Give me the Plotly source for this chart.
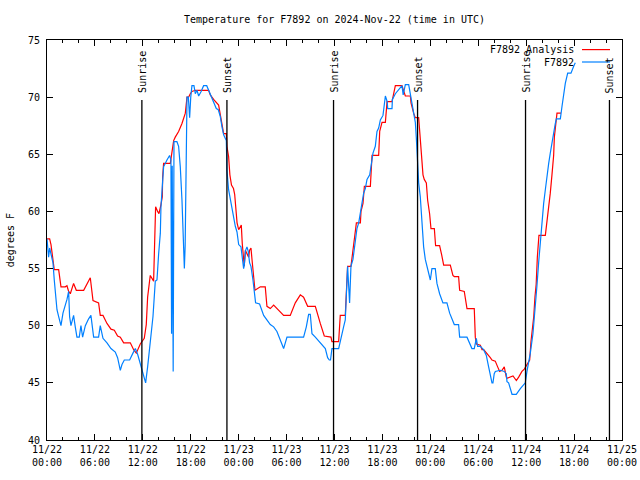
import pandas as pd
import plotly.graph_objects as go

START = "2024-11-22 00:00"
END = "2024-11-25 00:00"

# F7892 Analysis (red): hours since 11/22 00:00 UTC, temperature (F)
analysis_hours = [
    0.00, 0.33, 0.50, 0.62, 0.75, 0.91, 1.46, 1.67, 1.75, 2.29, 2.50, 2.71, 2.92, 3.33, 3.67,
    4.59, 5.42, 5.76, 6.46, 6.67, 7.01, 7.51, 8.01, 8.43, 8.84, 9.18, 9.60, 10.43, 10.85, 11.18,
    11.68, 12.18, 12.43, 12.60, 12.80, 12.93, 13.35, 13.50, 13.60, 13.85, 14.02, 14.27, 14.44,
    14.48, 14.60, 15.44, 15.69, 15.86, 16.06, 16.48, 16.90, 17.32, 17.53, 17.73, 17.94, 18.15,
    18.57, 20.24, 20.45, 20.86, 21.49, 21.70, 21.91, 22.12, 22.45, 22.53, 22.74, 22.90, 23.10,
    23.35, 23.50, 23.60, 23.80, 24.00, 24.20, 24.33, 24.45, 24.62, 24.70, 24.83, 25.04, 25.25,
    25.37, 25.54, 25.67, 25.87, 26.04, 26.71, 27.33, 27.54, 27.96, 28.38, 28.79, 29.21, 29.63,
    30.46, 31.09, 31.72, 32.13, 32.64, 33.60, 34.22, 34.72, 35.56, 35.68, 36.52, 36.72, 37.35,
    37.48, 37.64, 38.06, 38.31, 38.48, 38.74, 39.24, 39.32, 39.57, 39.74, 40.49, 40.57, 40.70,
    41.53, 41.66, 41.95, 42.37, 42.58, 43.20, 43.41, 43.62, 44.45, 44.66, 44.87, 45.50, 45.58,
    45.91, 46.12, 46.54, 46.74, 46.95, 47.08, 47.24, 47.50, 47.66, 47.91, 48.08, 48.50, 48.66,
    49.16, 49.42, 49.67, 50.50, 50.83, 51.00, 51.54, 51.67, 52.25, 52.59, 53.50, 53.63, 53.76,
    54.26, 54.47, 54.68, 55.09, 55.51, 55.72, 56.13, 56.43, 56.68, 56.97, 57.18, 57.26, 57.51,
    57.60, 58.35, 58.77, 59.06, 59.27, 59.47, 59.77, 60.10, 60.44, 60.60, 60.80, 60.95, 61.10,
    61.25, 61.40, 61.60, 62.40, 62.61, 62.82, 63.02, 63.23, 63.44, 63.53, 63.78, 63.86, 64.36,
]
analysis_temp = [
    57.6, 57.6, 57.1, 56.5, 55.9, 54.9, 54.9, 53.7, 53.4, 53.4, 53.5, 53.0, 52.8, 53.7, 53.1,
    53.1, 54.2, 52.2, 52.0, 50.9, 50.9, 50.2, 49.7, 49.6, 49.1, 49.0, 48.5, 48.5, 47.9, 47.6,
    48.4, 48.9, 50.1, 52.5, 54.0, 54.4, 53.9, 57.1, 60.4, 60.0, 59.8, 60.6, 61.3,
    63.0, 64.2, 64.2, 65.2, 66.2, 66.5, 67.0, 67.7, 68.6, 70.0, 70.0, 70.3, 70.5,
    70.6, 70.6, 70.2, 69.8, 69.3, 68.4, 67.4, 66.8, 66.8, 65.7, 64.8, 63.2, 62.3,
    62.0, 61.5, 60.3, 59.0, 58.4, 58.7, 58.8, 57.2, 55.3, 55.2, 56.6, 56.3, 56.0,
    56.6, 56.8, 55.8, 54.3, 53.1, 53.4, 53.4, 51.7, 51.5, 51.8, 51.5, 51.2, 50.9,
    50.9, 52.0, 52.7, 52.5, 51.7, 51.7, 50.2, 49.1, 49.0, 48.6, 48.6, 50.9, 50.9,
    52.8, 55.2, 55.2, 56.6, 57.5, 59.0, 59.0, 60.0, 60.7, 62.2, 62.2, 63.0, 64.9,
    64.9, 67.0, 67.8, 67.8, 69.6, 69.6, 70.3, 71.0, 71.0, 70.6, 70.1, 70.1, 69.5,
    68.6, 68.2, 68.2, 66.2, 64.5, 63.2, 62.8, 62.5, 61.0, 59.8, 58.5, 58.5, 57.0,
    57.0, 56.2, 55.3, 55.3, 54.4, 54.3, 54.3, 53.1, 53.0, 51.5, 51.5, 49.0, 48.4,
    48.3, 47.9, 47.9, 47.6, 47.2, 47.0, 46.9, 46.4, 46.0, 46.1, 46.4, 46.4, 45.5,
    45.4, 45.6, 45.2, 45.5, 45.8, 46.0, 46.2, 46.6, 47.0, 48.6, 49.9, 50.8, 52.5,
    53.6, 56.0, 57.9, 57.9, 59.1, 60.0, 61.6, 63.2, 64.9, 66.5, 68.1, 68.6, 68.6,
]

# F7892 station observations (blue)
station_hours = [
    0.00, 0.08, 0.20, 0.33, 0.50, 0.75, 0.91, 1.04, 1.25, 1.46, 1.75, 2.00, 2.29, 2.50, 2.71,
    2.83, 3.00, 3.33, 3.54, 3.75, 4.04, 4.25, 4.46, 4.80, 5.21, 5.50, 5.84, 6.46, 6.67, 7.01,
    7.51, 8.01, 8.55, 8.84, 9.18, 9.39, 9.68, 10.35, 10.76, 11.06, 11.35, 11.68, 12.02, 12.35,
    12.60, 12.93, 13.27, 13.56, 13.77, 13.98, 14.19, 14.27, 14.44, 14.60, 15.02, 15.35, 15.52,
    15.60, 15.68, 15.80, 15.90, 16.27, 16.48, 16.69, 16.90, 17.05, 17.12, 17.20, 17.30, 17.45,
    17.53, 17.70, 17.86, 18.00, 18.15, 18.40, 18.57, 18.78, 18.99, 19.30, 19.61, 20.00, 20.24,
    20.66, 20.95, 21.20, 21.45, 21.70, 21.91, 22.12, 22.45, 22.53, 22.74, 22.95, 23.16, 23.37,
    23.58, 23.79, 24.00, 24.29, 24.41, 24.54, 24.62, 24.70, 24.87, 25.04, 25.20, 25.37, 25.54,
    25.79, 25.96, 26.12, 26.62, 26.92, 27.13, 27.96, 28.38, 28.79, 29.21, 29.63, 30.05, 32.13,
    32.47, 32.76, 32.97, 33.18, 33.60, 34.22, 34.85, 35.14, 35.35, 35.50, 35.68, 36.52, 36.81,
    37.14, 37.35, 37.48, 37.64, 37.89, 38.06, 38.31, 38.60, 38.81, 39.03, 39.24, 39.44, 39.65,
    39.86, 40.07, 40.41, 40.57, 40.82, 41.11, 41.32, 41.53, 41.74, 42.07, 42.24, 42.37, 42.60,
    42.66, 43.20, 43.25, 43.62, 44.24, 44.45, 44.60, 44.87, 45.29, 45.50, 45.70, 45.91, 46.12,
    46.24, 46.33, 46.41, 46.54, 46.74, 46.95, 47.16, 47.37, 47.58, 47.79, 48.00, 48.20, 48.62,
    48.83, 49.16, 49.58, 50.08, 50.42, 50.71, 51.00, 51.54, 51.67, 52.59, 53.21, 53.50, 53.76,
    53.92, 54.26, 54.67, 55.01, 55.30, 55.59, 55.72, 55.84, 56.00, 56.14, 56.76, 57.26, 57.51,
    57.60, 57.80, 58.23, 58.76, 59.27, 59.89, 60.10, 60.31, 60.52, 60.85, 61.14, 61.35, 61.56,
    61.77, 61.98, 62.19, 62.40, 62.61, 62.82, 63.02, 63.23, 63.44, 63.65, 63.78, 64.28, 64.49,
    64.70, 64.90, 65.20, 65.61, 65.95, 66.15,
]
station_temp = [
    57.6, 56.5, 56.0, 56.8, 56.3, 55.5, 54.0, 52.7, 51.4, 50.8, 50.0, 51.1, 51.7, 52.3, 53.0,
    50.8, 50.0, 50.9, 49.9, 49.0, 49.0, 50.0, 49.0, 50.0, 50.6, 50.9, 49.0, 49.0, 50.0, 48.9,
    48.5, 48.0, 47.7, 47.2, 46.1, 46.6, 47.0, 47.0, 47.6, 48.0, 47.5, 46.7, 45.7, 45.0,
    46.4, 48.5, 50.8, 53.9, 54.0, 56.3, 58.1, 60.4, 62.2, 63.9, 64.5, 64.9, 64.5,
    49.3, 64.0, 46.0, 66.1, 66.1, 65.7, 63.9, 61.0, 57.1, 55.8, 55.0, 57.0, 68.0,
    70.0, 70.0, 68.2, 70.0, 71.0, 71.0, 70.3, 70.6, 70.1, 70.5, 71.0, 71.0, 70.6,
    69.9, 69.5, 69.0, 68.9, 68.3, 67.4, 66.7, 66.2, 63.6, 61.9, 61.0, 60.4, 59.5,
    58.7, 58.2, 57.1, 56.9, 56.3, 55.8, 55.0, 55.3, 56.6, 56.9, 56.5, 55.5, 55.2,
    54.0, 52.8, 52.0, 51.9, 51.2, 50.9, 50.1, 49.9, 49.5, 48.8, 48.0, 49.0, 49.0,
    49.9, 51.0, 51.0, 49.3, 49.0, 48.5, 48.0, 47.2, 47.0, 47.0, 48.0, 48.0, 49.0,
    49.9, 50.5, 52.8, 55.2, 52.0, 55.2, 55.8, 57.6, 58.5, 59.0, 60.0, 60.9, 61.6,
    62.0, 62.8, 63.2, 63.9, 65.1, 65.7, 67.0, 67.3, 68.0, 68.4, 69.6, 70.1, 69.6,
    69.0, 69.0, 69.8, 70.3, 70.8, 71.0, 70.2, 71.1, 71.1, 70.3, 69.6, 68.6, 67.8,
    66.5, 65.4, 64.5, 62.5, 61.3, 58.7, 56.9, 55.8, 55.2, 54.4, 54.0, 55.0, 55.0,
    53.7, 52.8, 52.0, 52.0, 51.1, 50.5, 50.1, 50.1, 49.0, 49.0, 48.0, 48.0, 48.9,
    48.2, 48.2, 47.9, 47.4, 46.4, 45.4, 45.0, 45.0, 45.8, 46.0, 46.1, 46.0, 45.8,
    45.1, 45.0, 44.0, 44.0, 44.5, 45.0, 46.0, 46.7, 47.6, 49.3, 51.4, 53.5, 55.5,
    57.5, 59.2, 60.7, 61.9, 63.2, 64.2, 65.1, 66.1, 66.7, 67.7, 68.1, 68.1, 69.2,
    70.3, 71.2, 72.1, 72.1, 72.7, 73.0,
]

# Sun events (hours since 11/22 00:00 UTC)
event_labels = ["Sunrise", "Sunset", "Sunrise", "Sunset", "Sunrise", "Sunset"]
event_hours = [11.88, 22.53, 35.88, 46.40, 59.92, 70.43]

series_names = ["F7892 Analysis", "F7892"]
series_colors = ["#ff0000", "#0080ff"]

FONT = "DejaVu Sans Mono"
t0 = pd.Timestamp(START)


def to_time(hours):
    return [t0 + pd.Timedelta(hours=h) for h in hours]


fig = go.Figure()
fig.add_trace(go.Scatter(x=to_time(analysis_hours), y=analysis_temp, mode="lines",
                         name=series_names[0], line=dict(color=series_colors[0], width=1.2),
                         showlegend=False))
fig.add_trace(go.Scatter(x=to_time(station_hours), y=station_temp, mode="lines",
                         name=series_names[1], line=dict(color=series_colors[1], width=1.2),
                         showlegend=False))

shapes = []
annotations = []
for lab, h in zip(event_labels, event_hours):
    t = t0 + pd.Timedelta(hours=h)
    shapes.append(dict(type="line", xref="x", yref="paper", x0=t, x1=t, y0=0, y1=0.85,
                       line=dict(color="black", width=1.3)))
    annotations.append(dict(text=lab, xref="x", yref="paper", x=t, y=0.865,
                            xanchor="center", yanchor="bottom", textangle=-90, showarrow=False,
                            font=dict(family=FONT, size=10, color="black"), borderpad=0))

# manual legend (top right, gnuplot style)
leg_y = [0.976, 0.945]
for name, col, yy in zip(series_names, series_colors, leg_y):
    annotations.append(dict(text=name, xref="paper", yref="paper", x=0.9185, y=yy,
                            xanchor="right", yanchor="middle", showarrow=False,
                            font=dict(family=FONT, size=10, color="black"), borderpad=0))
    shapes.append(dict(type="line", xref="paper", yref="paper", x0=0.9304, x1=0.9791,
                       y0=yy, y1=yy, line=dict(color=col, width=1.2)))

annotations.append(dict(text="degrees F", xref="paper", yref="paper", x=-0.064, y=0.5,
                        xanchor="center", yanchor="middle", textangle=-90, showarrow=False,
                        font=dict(family=FONT, size=10, color="black")))

fig.update_layout(
    width=640, height=480,
    margin=dict(l=47, r=18, t=40, b=40, autoexpand=False),
    paper_bgcolor="white", plot_bgcolor="white",
    font=dict(family=FONT, size=10, color="black"),
    title=dict(text="Temperature for F7892 on 2024-Nov-22 (time in UTC)",
               x=0.5, xref="paper", y=1 - 19 / 480, yref="container",
               xanchor="center", yanchor="middle",
               font=dict(family=FONT, size=10, color="black")),
    shapes=shapes, annotations=annotations,
    showlegend=False,
)
fig.update_xaxes(type="date", range=[START, END], showgrid=False, zeroline=False,
                 showline=True, linecolor="black", linewidth=1, mirror="allticks",
                 ticks="inside", ticklen=6, tickcolor="black", automargin=False,
                 dtick=6 * 3600 * 1000, tick0=START, tickformat="%m/%d<br>%H:%M",
                 minor=dict(ticks="inside", ticklen=3, dtick=2 * 3600 * 1000, tick0=START,
                            tickcolor="black", showgrid=False),
                 tickfont=dict(family=FONT, size=10, color="black"))
fig.update_yaxes(range=[40, 75], showgrid=False, zeroline=False,
                 showline=True, linecolor="black", linewidth=1, mirror="allticks",
                 ticks="inside", ticklen=6, tickcolor="black", dtick=5, automargin=False,
                 ticklabelstandoff=4,
                 tickfont=dict(family=FONT, size=10, color="black"))

fig.write_html("out.html")
